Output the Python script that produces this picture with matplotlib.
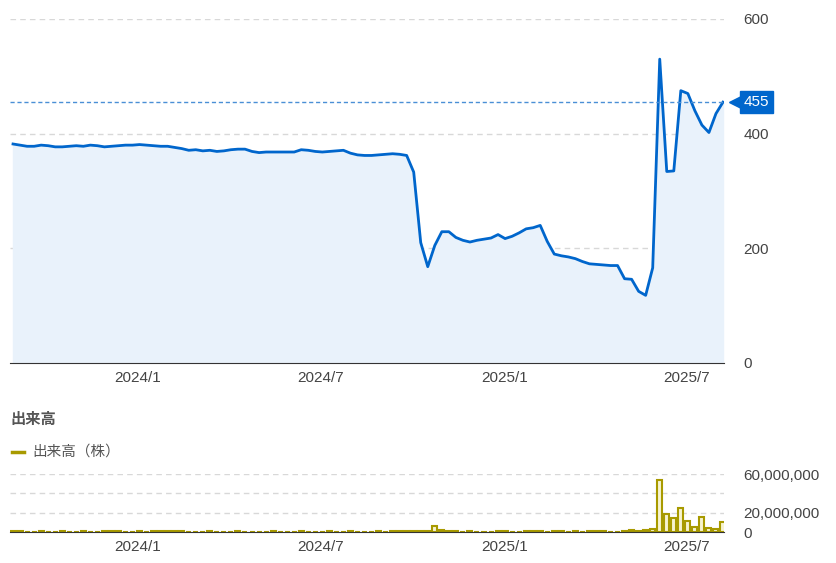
import matplotlib
matplotlib.use("Agg")
import matplotlib.pyplot as plt
import pandas as pd
import numpy as np

plt.rcParams['font.family'] = ['Liberation Sans', 'Noto Sans CJK JP', 'DejaVu Sans']

price = [382,380,378,378,380,379,377,377,378,379,378,
         380,379,377,378,379,380,380,381,380,379,
         378,378,376,374,371,372,370,371,369,370,
         372,373,373,369,367,368,368,368,368,368,
         372,371,369,368,369,370,371,
         366,363,362,362,363,364,365,364,362,333,210,168,205,229,229,219,214,211,214,216,218,224,217,221,227,234,236,240,212,190,187,185,182,177,173,172,171,170,170,147,146,125,118,166,530,334,335,475,470,440,415,402,435,455]
volume_m = [1.0,0.8,0.5,0.5,0.6,0.5,0.5,0.6,0.5,0.5,0.6,
            0.5,0.5,0.6,0.7,0.6,0.5,0.5,0.6,0.5,0.6,
            0.7,0.8,0.7,0.6,0.5,0.5,0.5,0.6,0.5,0.5,
            0.5,0.6,0.5,0.5,0.5,0.5,0.6,0.5,0.5,0.5,
            0.6,0.5,0.5,0.5,0.6,0.5,0.5,
            0.6,0.5,0.5,0.5,0.6,0.5,0.6,1.0,1.2,1.5,1.0,0.8,6.0,2.0,0.8,0.6,0.5,0.6,0.5,0.5,0.5,1.5,0.6,0.5,0.5,0.6,0.8,0.6,0.5,1.0,0.6,0.5,0.6,0.5,0.8,0.6,0.6,0.5,0.5,0.8,2.5,1.0,2.5,3.0,54,19,15,25,11,5,16,4,3,10]
dates = pd.date_range('2023-08-30', periods=len(price), freq='7D')
price_ticks = [0, 200, 400, 600]
vol_ticks = [0, 20e6, 60e6]
xticks = ['2024-01-01', '2024-07-01', '2025-01-01', '2025-07-01']
xlabels = ['2024/1', '2024/7', '2025/1', '2025/7']
last = price[-1]

W, H = 837, 563
fig = plt.figure(figsize=(W/100, H/100), dpi=100)
L, R = 10/W, 724/W
ax = fig.add_axes([L, 1-363/H, R-L, (363-19)/H])
blue = '#0066cc'
ax.fill_between(dates, price, 0, color='#e9f2fb')
ax.plot(dates, price, color=blue, lw=2)
ax.axhline(last, color='#4a8fd6', lw=1, ls=(0, (3, 2)))
ax.set_ylim(0, 600)
ax.set_xlim(dates[0] - pd.Timedelta(days=3), dates[-1] + pd.Timedelta(days=1))
for t in [200, 400, 600]:
    ax.axhline(t, color='#d8d8d8', lw=1, ls=(0, (4, 3)), zorder=0)
ax.set_yticks(price_ticks)
ax.yaxis.tick_right()
ax.tick_params(axis='y', length=0, pad=14, labelsize=11, labelcolor='#444444')
ax.set_xticks(pd.to_datetime(xticks))
ax.set_xticklabels(xlabels)
ax.tick_params(axis='x', length=0, pad=6, labelsize=11, labelcolor='#444444')
for s in ['top', 'right', 'left']:
    ax.spines[s].set_visible(False)
ax.spines['bottom'].set_color('#333333')
ax.plot([1.016], [last], marker='<', ms=8, color=blue, transform=ax.get_yaxis_transform(), clip_on=False)
ax.text(1.028, last, f'{last}', transform=ax.get_yaxis_transform(), ha='left', va='center',
        color='white', fontsize=11, bbox=dict(boxstyle='square,pad=0.25', fc=blue, ec=blue))

fig.text(10/W, 1-420/H, '出来高', fontsize=11, fontweight='bold', color='#555555', va='center')
fig.lines.append(plt.Line2D([12/W, 24/W], [1-452/H]*2, color='#a89a00', lw=2.5, transform=fig.transFigure))
fig.text(32/W, 1-452/H, '出来高（株）', fontsize=10.5, color='#555555', va='center')

av = fig.add_axes([L, 1-532/H, R-L, (532-474)/H])
av.bar(dates, np.array(volume_m)*1e6, width=5, color='#f7f3d0', edgecolor='#a89a00', lw=1.5)
av.set_ylim(0, 60e6)
av.set_xlim(ax.get_xlim())
for t in [20e6, 40e6, 60e6]:
    av.axhline(t, color='#d8d8d8', lw=1, ls=(0, (4, 3)), zorder=0)
av.set_yticks(vol_ticks)
av.set_yticklabels(['0', '20,000,000', '60,000,000'])
av.yaxis.tick_right()
av.tick_params(axis='y', length=0, pad=14, labelsize=11, labelcolor='#444444')
av.set_xticks(pd.to_datetime(xticks))
av.set_xticklabels(xlabels)
av.tick_params(axis='x', length=0, pad=6, labelsize=11, labelcolor='#444444')
for s in ['top', 'right', 'left']:
    av.spines[s].set_visible(False)
av.spines['bottom'].set_color('#333333')
fig.savefig('out.png', dpi=100)
